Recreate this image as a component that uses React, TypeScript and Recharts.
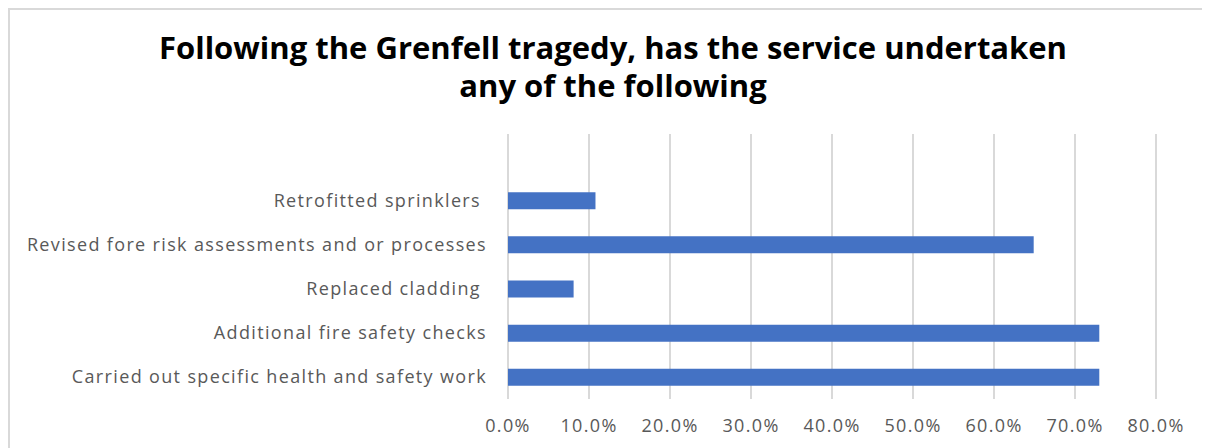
import { Bar, BarChart, CartesianGrid, XAxis, YAxis } from "recharts";

const BLUE = "#4472C4";
const GRID = "#d9d9d9";
const LABEL = "#595959";

// top row is an empty category, as in the source chart
const categories = [
  "",
  "Retrofitted sprinklers\u00A0",
  "Revised fore risk assessments and or processes",
  "Replaced cladding\u00A0",
  "Additional fire safety checks",
  "Carried out specific health and safety work",
];
const shares = [null, 0.108, 0.649, 0.081, 0.73, 0.73];
const xTicks = [0, 0.1, 0.2, 0.3, 0.4, 0.5, 0.6, 0.7, 0.8];

const data = categories.map((name, i) => ({ name, value: shares[i] }));

const tickStyle = {
  fill: LABEL,
  fontSize: 18,
  letterSpacing: 1.35,
  fontFamily: "'Open Sans', sans-serif",
};

export default function App() {
  return (
    <div
      style={{
        position: "relative",
        width: 1200,
        height: 438,
        borderTop: `2px solid ${GRID}`,
        borderLeft: `2px solid ${GRID}`,
        background: "#fff",
        overflow: "hidden",
      }}
    >
      <div
        style={{
          position: "absolute",
          left: 0,
          width: 1206,
          top: 18,
          textAlign: "center",
          fontFamily: "'Open Sans', sans-serif",
          fontWeight: 700,
          fontSize: 31,
          lineHeight: "38px",
          color: "#000",
        }}
      >
        Following the Grenfell tragedy, has the service undertaken
        <br />
        any of the following
      </div>
      <BarChart
        width={1200}
        height={438}
        data={data}
        layout="vertical"
        margin={{ top: 124, right: 54, left: 0, bottom: 0 }}
      >
        <CartesianGrid horizontal={false} stroke={GRID} strokeWidth={2} />
        <XAxis
          type="number"
          domain={[0, 0.8]}
          ticks={xTicks}
          tickFormatter={(v: number) => `${(v * 100).toFixed(1)}%`}
          axisLine={false}
          tickLine={false}
          height={49}
          tickMargin={14}
          tick={tickStyle}
        />
        <YAxis
          type="category"
          dataKey="name"
          width={498}
          axisLine={false}
          tickLine={false}
          tickMargin={15}
          interval={0}
          tick={tickStyle}
        />
        <Bar dataKey="value" fill={BLUE} barSize={17} isAnimationActive={false} />
      </BarChart>
    </div>
  );
}
